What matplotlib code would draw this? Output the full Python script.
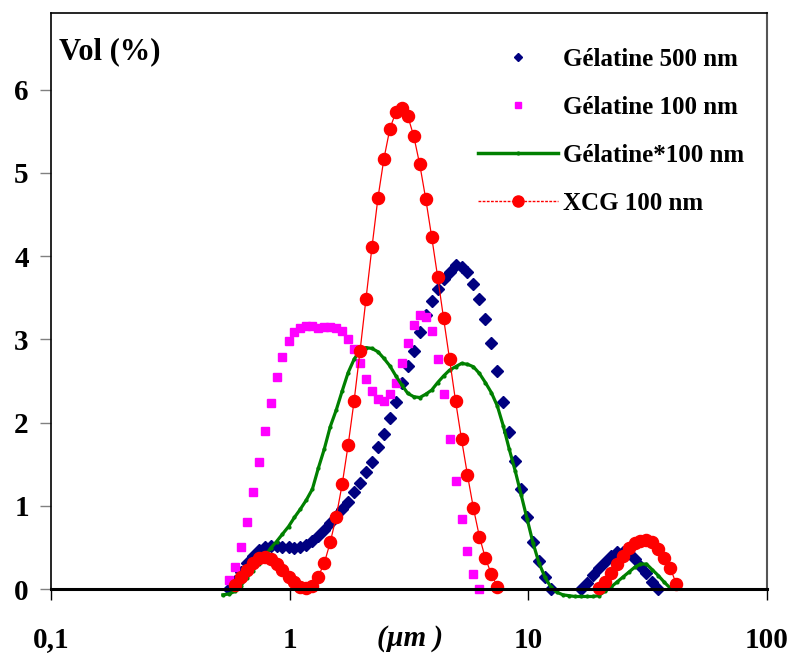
import matplotlib
matplotlib.use('Agg')
import matplotlib.pyplot as plt
from matplotlib.lines import Line2D
from matplotlib.ticker import FixedLocator, NullLocator
import numpy as np

nan = np.nan

# particle size classes (um)
size_um = [0.525, 0.556, 0.589, 0.624, 0.661, 0.700, 0.741, 0.785, 0.832, 0.881, 0.933, 0.989,
           1.047, 1.109, 1.175, 1.245, 1.318, 1.396, 1.479, 1.567, 1.660, 1.758, 1.862, 1.972,
           2.089, 2.213, 2.344, 2.483, 2.630, 2.786, 2.951, 3.126, 3.311, 3.508, 3.715, 3.936,
           4.169, 4.416, 4.677, 4.955, 5.248, 5.559, 5.888, 6.237, 6.607, 6.998, 7.413, 7.852,
           8.318, 8.810, 9.333, 9.886, 10.47, 11.09, 11.75, 12.45, 13.18, 13.96, 14.79, 15.67,
           16.60, 17.58, 18.62, 19.72, 20.89, 22.13, 23.44, 24.83, 26.30, 27.86, 29.51, 31.26,
           33.11, 35.08, 37.15, 39.36, 41.69]

gel500 = [nan, 0.00, 0.10, 0.20, 0.31, 0.40, 0.47, 0.50, 0.52, 0.52, 0.51, 0.50,
          0.49, 0.50, 0.53, 0.58, 0.64, 0.71, 0.79, 0.88, 0.96, 1.05, 1.16, 1.27,
          1.40, 1.52, 1.70, 1.86, 2.06, 2.25, 2.47, 2.68, 2.86, 3.09, 3.29, 3.46,
          3.60, 3.73, 3.81, 3.89, 3.87, 3.81, 3.67, 3.48, 3.24, 2.95, 2.62, 2.25,
          1.89, 1.54, 1.20, 0.86, 0.57, 0.34, 0.15, 0.00, nan, nan, nan, nan,
          0.00, 0.07, 0.17, 0.25, 0.33, 0.40, 0.44, 0.45, 0.43, 0.36, 0.28, 0.19,
          0.09, 0.00, nan, nan, nan]

gel100 = [nan, 0.11, 0.27, 0.51, 0.80, 1.16, 1.52, 1.90, 2.24, 2.55, 2.79, 2.98,
          3.09, 3.13, 3.16, 3.16, 3.13, 3.15, 3.15, 3.13, 3.10, 3.00, 2.88, 2.72,
          2.52, 2.38, 2.28, 2.26, 2.34, 2.48, 2.72, 2.96, 3.17, 3.29, 3.27, 3.10,
          2.76, 2.34, 1.80, 1.30, 0.84, 0.46, 0.18, 0.00, nan, nan, nan, nan,
          nan, nan, nan, nan, nan, nan, nan, nan, nan, nan, nan, nan,
          nan, nan, nan, nan, nan, nan, nan, nan, nan, nan, nan, nan,
          nan, nan, nan, nan, nan]

gel_star100 = [-0.07, -0.06, -0.03, 0.04, 0.13, 0.22, 0.30, 0.39, 0.49, 0.57, 0.66, 0.75,
               0.86, 0.96, 1.07, 1.20, 1.45, 1.68, 1.95, 2.15, 2.38, 2.60, 2.76, 2.87,
               2.90, 2.89, 2.85, 2.77, 2.68, 2.56, 2.45, 2.35, 2.31, 2.30, 2.34, 2.39,
               2.48, 2.56, 2.63, 2.67, 2.71, 2.70, 2.67, 2.59, 2.48, 2.36, 2.20, 1.96,
               1.68, 1.42, 1.13, 0.84, 0.55, 0.31, 0.14, 0.02, -0.04, -0.07, -0.08, -0.09,
               -0.09, -0.09, -0.09, -0.08, -0.03, 0.02, 0.08, 0.14, 0.20, 0.26, 0.30, 0.30,
               0.23, 0.16, 0.08, 0.01, nan]

xcg100 = [nan, nan, 0.05, 0.15, 0.23, 0.31, 0.37, 0.39, 0.36, 0.30, 0.23, 0.15,
          0.08, 0.03, 0.01, 0.04, 0.15, 0.31, 0.56, 0.87, 1.26, 1.73, 2.26, 2.86,
          3.49, 4.11, 4.70, 5.17, 5.53, 5.73, 5.78, 5.68, 5.44, 5.10, 4.69, 4.23,
          3.75, 3.25, 2.76, 2.26, 1.80, 1.37, 0.97, 0.63, 0.37, 0.18, 0.03, nan,
          nan, nan, nan, nan, nan, nan, nan, nan, nan, nan, nan, nan,
          nan, nan, nan, 0.01, 0.09, 0.19, 0.30, 0.40, 0.49, 0.55, 0.58, 0.59,
          0.56, 0.48, 0.37, 0.25, 0.06]

labels = ['Gélatine 500 nm', 'Gélatine 100 nm', 'Gélatine*100 nm', 'XCG 100 nm']
x_ticks = [0.1, 1, 10, 100]
x_ticklabels = ['0,1', '1', '10', '100']
y_ticks = [0, 1, 2, 3, 4, 5, 6]

plt.rcParams['font.family'] = 'Liberation Serif'
plt.rcParams['font.weight'] = 'bold'

fig = plt.figure(figsize=(7.92, 6.55), dpi=100)
ax = fig.add_axes([51/792, 1-589/655, 716/792, 576/655])
ax.set_xscale('log')
ax.set_xlim(0.1, 100)
ax.set_ylim(0, 6.92)

ax.plot(size_um, gel500, linestyle='none', marker='D', ms=6.3, color='#000080', clip_on=False)
ax.plot(size_um, gel100, linestyle='none', marker='s', ms=5.5, color='#FF00FF', mec='#FF00FF', clip_on=False)
ax.plot(size_um, gel_star100, '-', lw=2.3, color='#008000', marker='o', ms=2, clip_on=False)
ax.plot(size_um, xcg100, ls='-', lw=0.9, color='#FF0000', marker='o', ms=8.7, clip_on=False)

# axes look
ax.spines['bottom'].set_linewidth(2.2)
ax.spines['left'].set_linewidth(1.2)
ax.spines['top'].set_linewidth(1.2)
ax.spines['right'].set_linewidth(1.5)
ax.spines['right'].set_color('#555555')

ax.xaxis.set_major_locator(FixedLocator(x_ticks))
ax.xaxis.set_minor_locator(NullLocator())
ax.set_xticklabels(x_ticklabels)
ax.set_yticks(y_ticks)
ax.tick_params(axis='x', direction='out', length=8, width=1, color='black', pad=19, labelsize=21)
ax.tick_params(axis='y', direction='out', length=8, width=1, color='#808080', pad=8, labelsize=21)

fig.text(59/792, 1-52/655, 'Vol (%)', ha='left', va='center', fontsize=22, weight='bold')
fig.text(410/792, 1-638/655, '(µm )', ha='center', va='center', fontsize=21, style='italic', weight='bold')

handles = [
    Line2D([], [], ls='none', marker='D', ms=4, color='#000080'),
    Line2D([], [], ls='none', marker='s', ms=4, color='#FF00FF'),
    Line2D([], [], ls='-', lw=2.5, color='#008000', marker='o', ms=2),
    Line2D([], [], ls=(0, (2, 1)), lw=1, color='#FF0000', marker='o', ms=8),
]
ax.legend(handles, labels, loc='upper left', bbox_to_anchor=(0.596, 0.94), frameon=False,
          fontsize=18, handlelength=3.2, handletextpad=0.2, labelspacing=1.0,
          borderpad=0, borderaxespad=0, numpoints=1)

fig.savefig('out.png', dpi=100)
